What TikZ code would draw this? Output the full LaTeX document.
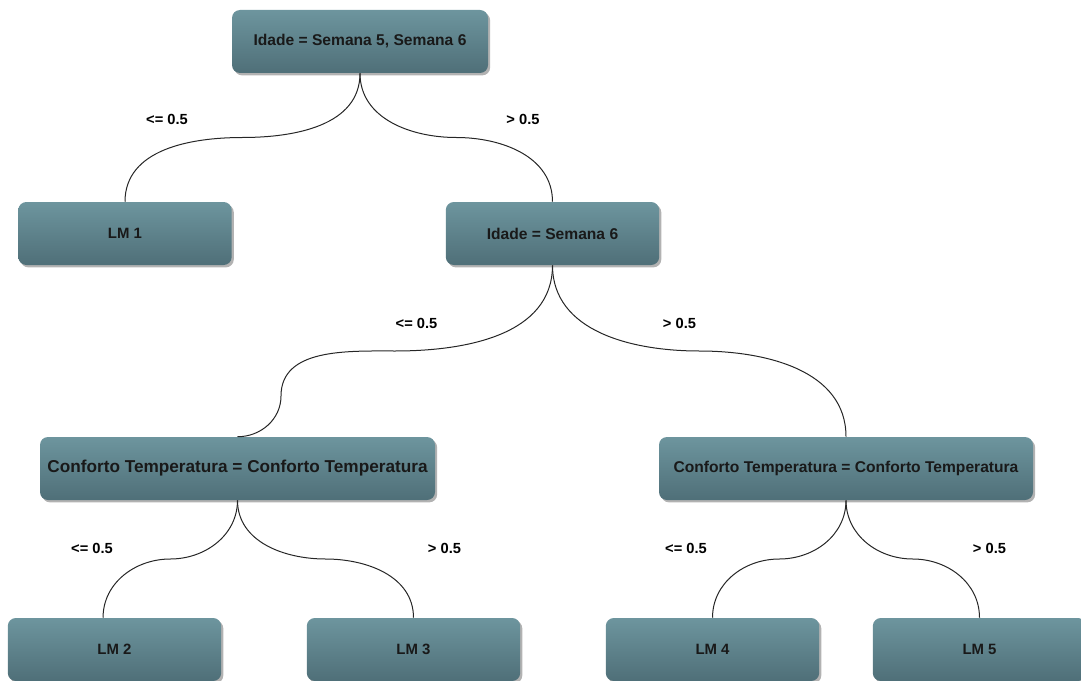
\documentclass[tikz,border=0pt]{standalone}
\usepackage{fontspec}
\setmainfont{Liberation Sans}
\usetikzlibrary{calc,shadows}

\definecolor{boxtop}{HTML}{6D959E}
\definecolor{boxbot}{HTML}{4F6F78}

\tikzset{
  box/.style={rounded corners=6pt, top color=boxtop, bottom color=boxbot,
    minimum height=47.25pt, inner sep=0pt, text=black!90,
    font=\bfseries\fontsize{11.7}{14}\selectfont,
    drop shadow={shadow xshift=1.6pt, shadow yshift=-1.8pt, opacity=.3, fill=black}},
  leaf/.style={box, minimum width=160pt, font=\bfseries\fontsize{11.2}{14}\selectfont},
  cond/.style={font=\bfseries\fontsize{11}{13}\selectfont, text=black},
  edge/.style={draw=black!85, line width=0.75pt}
}

\begin{document}
\begin{tikzpicture}[x=0.75pt,y=0.75pt]
  \useasboundingbox (0,0) rectangle (1081,-681);

  \node[box, minimum width=192pt] (root) at (360,-41.5) {Idade = Semana 5, Semana 6};
  \node[leaf] (lm1) at (125,-233.5) {LM 1};
  \node[box, minimum width=160pt] (s6) at (552.5,-233.5) {Idade = Semana 6};
  \node[box, minimum width=296.25pt, font=\bfseries\fontsize{12.9}{15}\selectfont] (cl) at (237.5,-468.5) {Conforto Temperatura = Conforto Temperatura};
  \node[box, minimum width=280.5pt] (cr) at (846,-468.5) {Conforto Temperatura = Conforto Temperatura};
  \foreach \x/\n in {114.5/2,413.5/3,712.5/4,979.5/5}
    \node[leaf] (lm\n) at (\x,-649.5) {LM \n};

  % curved connectors, flat in the middle
  \foreach \a/\b/\i/\o in {root/lm1/0/180, root/s6/180/0, s6/cr/180/0, cl/lm3/180/0, cr/lm4/0/180, cr/lm5/180/0}
    \draw[edge] (\a.south) to[out=-90,in=\i] ($(\a.south)!.5!(\b.north)$) to[out=\o,in=90] (\b.north);

  \coordinate (lm2in) at ([xshift=-8.6pt]lm2.north);
  \draw[edge] (cl.south) to[out=-90,in=0] ($(cl.south)!.5!(lm2in)$) to[out=180,in=90] (lm2in);

  \coordinate (bendA) at (395,-351);
  \coordinate (bendB) at (281,-396);
  \draw[edge] (s6.south) to[out=-90,in=0] (bendA) to[out=180,in=90] (bendB) to[out=-90,in=0] (cl.north);

  \foreach \x/\y/\t/\n in {167/-119/<= 0.5/l1, 523/-119/> 0.5/r1, 416.5/-323/<= 0.5/l2, 679.5/-323/> 0.5/r2,
      92/-548/<= 0.5/l3, 444.5/-548/> 0.5/r3, 686/-548/<= 0.5/l4, 989.5/-548/> 0.5/r4}
    \node[cond] (\n) at (\x,\y) {\t};
\end{tikzpicture}
\end{document}
